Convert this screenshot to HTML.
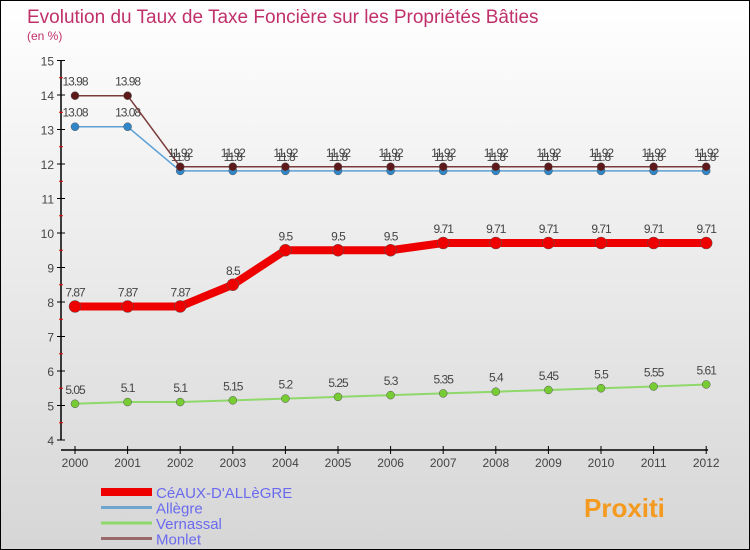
<!DOCTYPE html>
<html><head><meta charset="utf-8"><style>
body{margin:0}
#c{width:748px;height:548px;border:1px solid #000;background:linear-gradient(#fff 0%,#f2f2f2 30%,#d6d6d6 100%);position:relative;font-family:"Liberation Sans",sans-serif;overflow:hidden}
svg{position:absolute;left:0;top:0}
</style></head><body>
<div id="c">
<svg id="s" width="748" height="548">
<text x="26" y="22" font-size="19" fill="#c0306a">Evolution du Taux de Taxe Foncière sur les Propriétés Bâties</text>
<text x="26" y="39" font-size="12" fill="#c0306a">(en %)</text>
</svg>
</div>
<script>
const years=[2000,2001,2002,2003,2004,2005,2006,2007,2008,2009,2010,2011,2012];
const ceaux=[7.87,7.87,7.87,8.5,9.5,9.5,9.5,9.71,9.71,9.71,9.71,9.71,9.71];
const allegre=[13.08,13.08,11.8,11.8,11.8,11.8,11.8,11.8,11.8,11.8,11.8,11.8,11.8];
const vernassal=[5.05,5.1,5.1,5.15,5.2,5.25,5.3,5.35,5.4,5.45,5.5,5.55,5.61];
const monlet=[13.98,13.98,11.92,11.92,11.92,11.92,11.92,11.92,11.92,11.92,11.92,11.92,11.92];
const yTicks=[4,5,6,7,8,9,10,11,12,13,14,15];
const NS='http://www.w3.org/2000/svg';
const s=document.getElementById('s');
const X=i=>74+i*52.6, Y=v=>439-(v-4)*34.5;
function mk(t,a,p){const e=document.createElementNS(NS,t);for(const k in a)e.setAttribute(k,a[k]);(p||s).appendChild(e);return e;}
let ax=mk('line',{x1:60,y1:Y(15),x2:60,y2:Y(4),stroke:'#000','stroke-width':1.5});

let xa=mk('line',{x1:60,y1:449,x2:707,y2:449,stroke:'#000','stroke-width':1.5});

yTicks.forEach(v=>{mk('line',{x1:56,y1:Y(v),x2:64,y2:Y(v),stroke:'#000'});
 if(v<15)mk('line',{x1:58,y1:Y(v+0.5),x2:62,y2:Y(v+0.5),stroke:'#e00'});
 let t=mk('text',{x:53,y:Y(v)+5,'text-anchor':'end','font-size':12,fill:'#444'});t.textContent=v;
 });
years.forEach((y,i)=>{mk('line',{x1:X(i),y1:445,x2:X(i),y2:453,stroke:'#000'});
 let t=mk('text',{x:X(i),y:466,'text-anchor':'middle','font-size':12,fill:'#444'});t.textContent=y;
 });
function series(d,col,w,dot,r,name){
 let g=mk('g',{});
 mk('polyline',{points:d.map((v,i)=>X(i)+','+Y(v)).join(' '),fill:'none',stroke:col,'stroke-width':w,'stroke-linejoin':'round'},g);
 d.forEach((v,i)=>{let c=mk('circle',{cx:X(i),cy:Y(v),r:r,fill:dot,stroke:'#555','stroke-width':0.5},g);
  
  let t=mk('text',{x:X(i),y:Y(v)-10,'text-anchor':'middle','font-size':12,fill:'#444','letter-spacing':'-1'},g);t.textContent=v;});
}
series(vernassal,'#8fd86a',2,'#77cc33',4,'vernassal');
series(allegre,'#5ca0d6',1.5,'#2f87c9',4,'allegre');
series(monlet,'#7a3a3a',1.5,'#5e1a1a',4,'monlet');
series(ceaux,'#ee0000',8,'#ee0000',6,'ceaux');
const leg=[['CéAUX-D\'ALLèGRE','#ee0000',8],['Allègre','#6fa6cf',3],['Vernassal','#8fd86a',3],['Monlet','#9a6a6a',3]];
leg.forEach((l,i)=>{const y=491+i*15.5;let g=mk('g',{});
 mk('line',{x1:100,y1:y,x2:151,y2:y,stroke:l[1],'stroke-width':l[2]},g);
 let t=mk('text',{x:155,y:y+6,'font-size':15,fill:'#6a6aee'},g);t.textContent=l[0];});
let lg=mk('text',{x:583,y:516,'font-size':26,'font-weight':'bold',fill:'#f39a1f'});lg.textContent='Proxiti';

</script>
</body></html>
